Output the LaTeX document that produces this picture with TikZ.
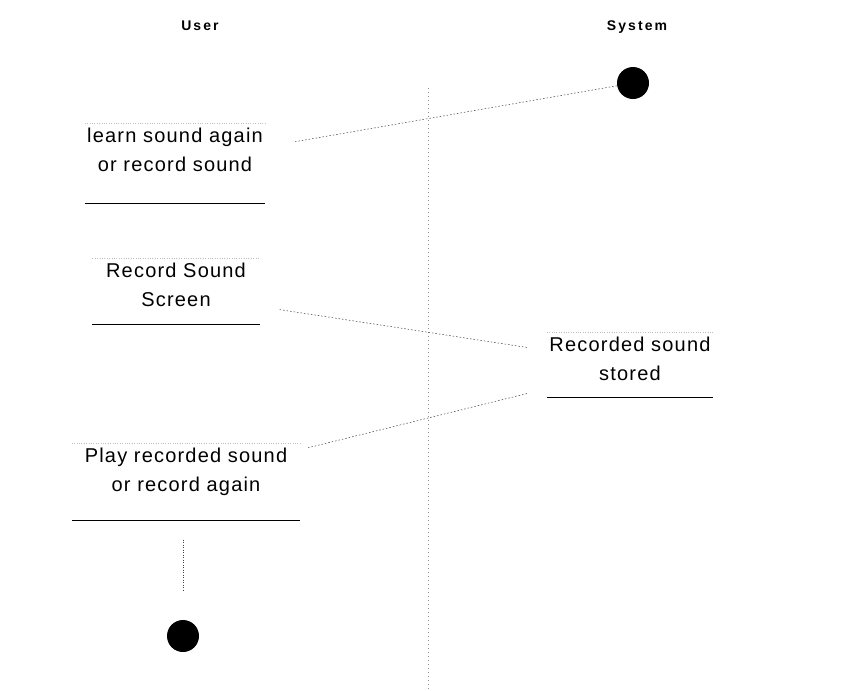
\documentclass[tikz,border=0pt]{standalone}
\usepackage{fontspec}
\setmainfont{Liberation Sans}
\newfontfamily\actfont[LetterSpace=6]{Liberation Sans}
\newfontfamily\lanefont[LetterSpace=15]{Liberation Sans}
\usepackage{tikz}

\begin{document}
\begin{tikzpicture}[
    x=1pt, y=-1pt,
    lane/.style={font=\lanefont\bfseries\fontsize{14}{16}\selectfont, inner sep=0pt, anchor=base},
    state/.style={circle, fill=black, minimum size=32pt, inner sep=0pt},
    boxtop/.style={black!25, thin, dotted},
    bar/.style={black, line width=0.8pt},
    activity/.style 2 args={align=center, text width=#1, inner sep=0pt, anchor=north,
        font=\actfont\fontsize{20}{28.5}\selectfont,
        execute at begin node=\strut, execute at end node=\strut,
        append after command={
            (\tikzlastnode.north west) edge[boxtop] (\tikzlastnode.north east)
            ([yshift=-#2]\tikzlastnode.south west) edge[bar] ([yshift=-#2]\tikzlastnode.south east)}},
    flow/.style={black!75, line width=0.5pt, dash pattern=on 1.5pt off 2pt},
    divider/.style={black!45, thin, dash pattern=on 1pt off 3pt}
]
    \useasboundingbox (0,0) rectangle (841,691);
    \fill[white] (0,0) rectangle (841,691);

    % swimlanes
    \node[lane] (user) at (200,30) {User};
    \node[lane] (system) at (637,30) {System};
    \draw[divider] (428,88) -- (428,691);

    % states and activities
    \node[state] (start) at (633,83) {};
    \node[activity={180pt}{23.5pt}] (learn) at (175,122.7) {learn sound again\\or record sound};
    \node[activity={167pt}{9.5pt}] (recscreen) at (176,257.7) {Record Sound\\Screen};
    \node[activity={166pt}{8.5pt}] (stored) at (630,331.7) {Recorded sound\\stored};
    \node[activity={228pt}{20.5pt}] (play) at (186,442.7) {Play recorded sound\\or record again};
    \node[state] (stop) at (183,636) {};

    % transitions
    \draw[flow] (start) -- ([xshift=30pt,yshift=-19pt]learn.north east);
    \draw[flow] ([xshift=20pt,yshift=5.5pt]recscreen.south east) -- ([xshift=-20pt,yshift=13pt]stored.west);
    \draw[flow] ([xshift=-20pt,yshift=-4.5pt]stored.south west) -- ([xshift=8pt,yshift=-5pt]play.north east);
    \draw[flow, dash pattern=on 1pt off 1.5pt, shorten <=39.5pt, shorten >=28pt] (play.south -| stop.north) -- (stop.north);
\end{tikzpicture}
\end{document}
